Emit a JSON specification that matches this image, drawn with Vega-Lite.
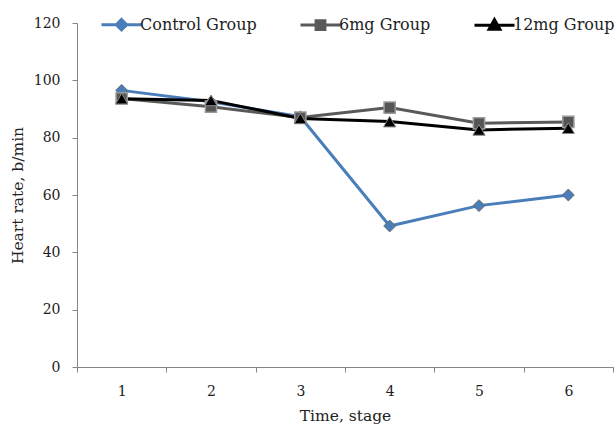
{
  "$schema": "https://vega.github.io/schema/vega-lite/v6.json",
  "width": 536,
  "height": 344,
  "autosize": "none",
  "padding": {"left": 77, "top": 23, "right": 2, "bottom": 59},
  "background": "white",
  "config": {"view": {"stroke": null}, "font": "DejaVu Serif"},
  "data": {
    "values": [
      {"stage": "1", "group": "Control Group", "rate": 96.5},
      {"stage": "2", "group": "Control Group", "rate": 92.5},
      {"stage": "3", "group": "Control Group", "rate": 87.3},
      {"stage": "4", "group": "Control Group", "rate": 49.2},
      {"stage": "5", "group": "Control Group", "rate": 56.3},
      {"stage": "6", "group": "Control Group", "rate": 60.0},
      {"stage": "1", "group": "6mg Group", "rate": 93.7},
      {"stage": "2", "group": "6mg Group", "rate": 90.8},
      {"stage": "3", "group": "6mg Group", "rate": 87.0},
      {"stage": "4", "group": "6mg Group", "rate": 90.5},
      {"stage": "5", "group": "6mg Group", "rate": 85.0},
      {"stage": "6", "group": "6mg Group", "rate": 85.5},
      {"stage": "1", "group": "12mg Group", "rate": 93.6},
      {"stage": "2", "group": "12mg Group", "rate": 93.0},
      {"stage": "3", "group": "12mg Group", "rate": 86.7},
      {"stage": "4", "group": "12mg Group", "rate": 85.6},
      {"stage": "5", "group": "12mg Group", "rate": 82.7},
      {"stage": "6", "group": "12mg Group", "rate": 83.3}
    ]
  },
  "encoding": {
    "x": {
      "field": "stage", "type": "ordinal",
      "scale": {"paddingInner": 0, "paddingOuter": 0},
      "axis": {
        "title": "Time, stage", "labelAngle": 0, "tickBand": "extent",
        "domainColor": "#868686", "tickColor": "#868686", "tickSize": 5,
        "labelPadding": 12, "labelFontSize": 14, "labelColor": "#222222",
        "titleFontSize": 15.5, "titleFontWeight": "normal", "titleColor": "#222222", "titlePadding": 10
      }
    },
    "y": {
      "field": "rate", "type": "quantitative",
      "scale": {"domain": [0, 120]},
      "axis": {
        "title": "Heart rate, b/min", "values": [0, 20, 40, 60, 80, 100, 120], "grid": false,
        "domainColor": "#868686", "tickColor": "#868686", "tickSize": 5,
        "labelPadding": 12, "labelFontSize": 14, "labelColor": "#222222",
        "titleFontSize": 15.5, "titleFontWeight": "normal", "titleColor": "#222222", "titlePadding": 8
      }
    }
  },
  "layer": [
    {
      "mark": {"type": "point", "size": 0, "filled": true, "opacity": 1},
      "encoding": {
        "shape": {
          "field": "group", "type": "nominal",
          "scale": {
            "domain": ["Control Group", "6mg Group", "12mg Group"],
            "range": [
              "M-1,0H1M0,-0.26L0.26,0L0,0.26L-0.26,0Z",
              "M-1,0H1M-0.22,-0.22H0.22V0.22H-0.22Z",
              "M-1,0H1M0,-0.28L0.27,0.2H-0.27Z"
            ]
          },
          "legend": {
            "orient": "none", "legendX": 23, "legendY": -20, "direction": "horizontal",
            "title": null, "symbolSize": 1600, "symbolStrokeWidth": 3, "symbolOpacity": 1,
            "labelFontSize": 16, "labelOffset": -3, "columnPadding": 37, "labelColor": "#222222",
            "padding": 0
          }
        },
        "color": {
          "field": "group", "type": "nominal",
          "scale": {"domain": ["Control Group", "6mg Group", "12mg Group"], "range": ["#4a7ebb", "#595959", "#000000"]}
        },
        "stroke": {
          "field": "group", "type": "nominal",
          "scale": {"domain": ["Control Group", "6mg Group", "12mg Group"], "range": ["#4a7ebb", "#595959", "#000000"]}
        }
      }
    },
    {
      "mark": {"type": "line", "strokeWidth": 3},
      "encoding": {
        "color": {"field": "group", "type": "nominal"}
      }
    },
    {
      "transform": [{"filter": "datum.group === 'Control Group'"}],
      "mark": {"type": "point", "shape": "diamond", "filled": true, "fill": "#4a7ebb", "stroke": "#6a6a6a", "strokeWidth": 1, "size": 140, "opacity": 1}
    },
    {
      "transform": [{"filter": "datum.group === '6mg Group'"}],
      "mark": {"type": "point", "shape": "square", "filled": true, "fill": "#555555", "stroke": "#9a9a9a", "strokeWidth": 1.5, "size": 125, "opacity": 1}
    },
    {
      "transform": [{"filter": "datum.group === '12mg Group'"}],
      "mark": {"type": "point", "shape": "triangle-up", "filled": true, "fill": "#000000", "stroke": "#8a8a8a", "strokeWidth": 1, "size": 150, "opacity": 1}
    }
  ]
}
